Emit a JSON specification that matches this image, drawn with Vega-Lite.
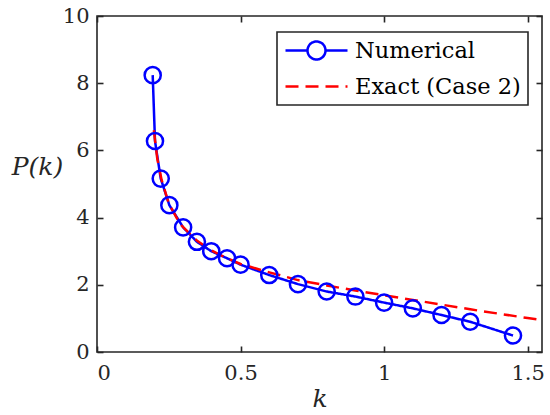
{
  "$schema": "https://vega.github.io/schema/vega-lite/v6.json",
  "width": 445,
  "height": 336,
  "autosize": {"type": "none"},
  "padding": {"left": 97, "top": 16, "right": 8, "bottom": 63},
  "background": "white",
  "config": {
    "font": "DejaVu Serif",
    "view": {"stroke": "#262626", "strokeWidth": 1.6},
    "axis": {
      "labelFont": "DejaVu Serif",
      "labelFontSize": 21,
      "labelColor": "#262626",
      "grid": false,
      "domain": false,
      "ticks": true,
      "tickColor": "#262626",
      "tickOpacity": 1,
      "tickWidth": 1.6,
      "tickSize": 6,
      "zindex": 1,
      "titleFont": "DejaVu Serif",
      "titleFontSize": 25,
      "titleFontStyle": "italic",
      "titleFontWeight": "normal",
      "titleColor": "#262626"
    }
  },
  "data": {
    "values": [
      {"series": "Numerical", "k": 0.194, "P": 8.24},
      {"series": "Numerical", "k": 0.202, "P": 6.28},
      {"series": "Numerical", "k": 0.222, "P": 5.16},
      {"series": "Numerical", "k": 0.252, "P": 4.37},
      {"series": "Numerical", "k": 0.3, "P": 3.71},
      {"series": "Numerical", "k": 0.348, "P": 3.28},
      {"series": "Numerical", "k": 0.398, "P": 3.0},
      {"series": "Numerical", "k": 0.453, "P": 2.79},
      {"series": "Numerical", "k": 0.5, "P": 2.6},
      {"series": "Numerical", "k": 0.6, "P": 2.29},
      {"series": "Numerical", "k": 0.7, "P": 2.02},
      {"series": "Numerical", "k": 0.8, "P": 1.8},
      {"series": "Numerical", "k": 0.9, "P": 1.65},
      {"series": "Numerical", "k": 1.0, "P": 1.47},
      {"series": "Numerical", "k": 1.1, "P": 1.3},
      {"series": "Numerical", "k": 1.2, "P": 1.1},
      {"series": "Numerical", "k": 1.3, "P": 0.9},
      {"series": "Numerical", "k": 1.449, "P": 0.49},
      {"series": "Exact (Case 2)", "k": 0.198, "P": 6.6},
      {"series": "Exact (Case 2)", "k": 0.21, "P": 5.75},
      {"series": "Exact (Case 2)", "k": 0.225, "P": 5.12},
      {"series": "Exact (Case 2)", "k": 0.25, "P": 4.42},
      {"series": "Exact (Case 2)", "k": 0.29, "P": 3.8},
      {"series": "Exact (Case 2)", "k": 0.35, "P": 3.3},
      {"series": "Exact (Case 2)", "k": 0.4, "P": 3.02},
      {"series": "Exact (Case 2)", "k": 0.45, "P": 2.8},
      {"series": "Exact (Case 2)", "k": 0.5, "P": 2.62},
      {"series": "Exact (Case 2)", "k": 0.6, "P": 2.37},
      {"series": "Exact (Case 2)", "k": 0.7, "P": 2.14},
      {"series": "Exact (Case 2)", "k": 0.8, "P": 1.98},
      {"series": "Exact (Case 2)", "k": 0.9, "P": 1.83},
      {"series": "Exact (Case 2)", "k": 1.0, "P": 1.69},
      {"series": "Exact (Case 2)", "k": 1.1, "P": 1.55},
      {"series": "Exact (Case 2)", "k": 1.2, "P": 1.41},
      {"series": "Exact (Case 2)", "k": 1.3, "P": 1.27},
      {"series": "Exact (Case 2)", "k": 1.4, "P": 1.14},
      {"series": "Exact (Case 2)", "k": 1.5, "P": 1.01},
      {"series": "Exact (Case 2)", "k": 1.55, "P": 0.95}
    ]
  },
  "resolve": {"axis": {"x": "independent", "y": "independent"}},
  "layer": [
    {
      "mark": {"type": "line", "strokeWidth": 2.5, "clip": true},
      "encoding": {
        "x": {
          "field": "k",
          "type": "quantitative",
          "scale": {"domain": [0, 1.55], "nice": false, "zero": false},
          "axis": {"values": [0, 0.5, 1, 1.5], "title": "k", "offset": -6, "labelPadding": 10, "titleY": 52, "titleBaseline": "middle", "format": "~g"}
        },
        "y": {
          "field": "P",
          "type": "quantitative",
          "scale": {"domain": [0, 10], "nice": false},
          "axis": {"values": [0, 2, 4, 6, 8, 10], "title": "P(k)", "offset": -6, "labelPadding": 8, "titleAngle": 0, "titleX": -66, "titleY": 150, "titleAlign": "center", "titleBaseline": "middle"}
        },
        "color": {
          "field": "series",
          "type": "nominal",
          "scale": {"domain": ["Numerical", "Exact (Case 2)"], "range": ["#0000ff", "#ff0000"]},
          "legend": {
            "title": null,
            "orient": "none",
            "legendX": 180,
            "legendY": 16,
            "direction": "vertical",
            "labelFont": "DejaVu Serif",
            "labelFontSize": 22.5,
            "labelLimit": 400,
            "labelColor": "#000000",
            "labelOffset": 48,
            "symbolSize": 400,
            "symbolStrokeWidth": 2.5,
            "rowPadding": 10,
            "padding": 7,
            "strokeColor": "#262626",
            "fillColor": "white",
            "cornerRadius": 0,
            "encode": {
              "symbols": {
                "update": {
                  "shape": [
                    {"test": "datum.value === 'Numerical'", "value": "M-1,0L1.2,0M3,0L5.2,0M3,0A0.9,0.9,0,1,1,1.2,0A0.9,0.9,0,1,1,3,0"},
                    {"value": "M-1,0L5.2,0"}
                  ],
                  "fill": {"value": "transparent"},
                  "strokeWidth": {"value": 2.5}
                }
              },
              "legend": {"update": {"strokeWidth": {"value": 1.6}}}
            }
          }
        },
        "strokeDash": {
          "field": "series",
          "type": "nominal",
          "scale": {"domain": ["Numerical", "Exact (Case 2)"], "range": [[1, 0], [13, 7]]},
          "legend": null
        }
      }
    },
    {
      "transform": [{"filter": "datum.series === 'Numerical'"}],
      "mark": {"type": "point", "shape": "circle", "filled": false, "size": 260, "strokeWidth": 2.5, "color": "#0000ff", "opacity": 1},
      "encoding": {
        "x": {
          "field": "k",
          "type": "quantitative",
          "scale": {"domain": [0, 1.55], "nice": false, "zero": false},
          "axis": {"orient": "top", "values": [0, 0.5, 1, 1.5], "title": null, "labels": false, "offset": -6, "tickColor": "#262626"}
        },
        "y": {
          "field": "P",
          "type": "quantitative",
          "scale": {"domain": [0, 10], "nice": false},
          "axis": {"orient": "right", "values": [0, 2, 4, 6, 8, 10], "title": null, "labels": false, "offset": -6, "tickColor": "#262626"}
        }
      }
    }
  ]
}
